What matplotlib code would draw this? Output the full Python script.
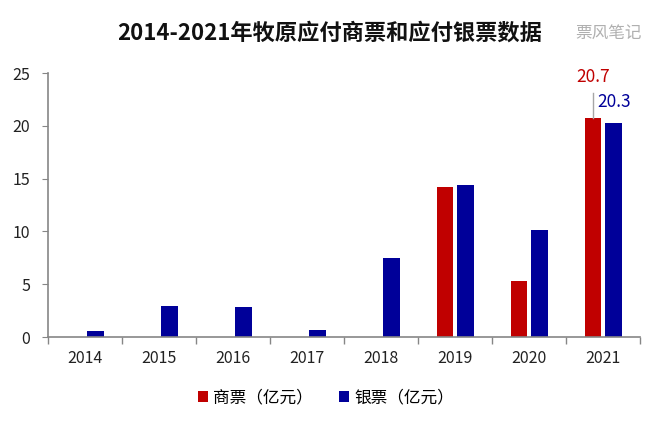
import matplotlib
matplotlib.use("Agg")
from matplotlib import pyplot as plt
import numpy as np

plt.rcParams['font.family'] = ['Noto Sans CJK SC', 'DejaVu Sans']

years = ["2014", "2015", "2016", "2017", "2018", "2019", "2020", "2021"]
shangpiao = [0, 0, 0, 0, 0, 14.2, 5.3, 20.7]   # 商票 (亿元)
yinpiao = [0.6, 2.9, 2.8, 0.7, 7.5, 14.4, 10.1, 20.3]  # 银票 (亿元)

red = "#C00000"
blue = "#000099"
grey = "#868686"

fig = plt.figure(figsize=(6.6, 4.25), dpi=100)
ax = fig.add_axes([0.073, 0.207, 0.897, 0.621])

x = np.arange(len(years))
w = 0.22
ax.bar(x - 0.14, shangpiao, w, color=red, label="商票（亿元）")
ax.bar(x + 0.14, yinpiao, w, color=blue, label="银票（亿元）")

ax.set_xlim(-0.5, len(years) - 0.5)
ax.set_ylim(0, 25)
ax.set_yticks([0, 5, 10, 15, 20, 25])
ax.set_xticks(x)
ax.set_xticklabels(years)
ax.tick_params(axis="x", length=0, pad=9, labelsize=11.5, labelcolor="#222222")
ax.set_xticks(np.arange(-0.5, len(years)), minor=True)
ax.tick_params(axis="x", which="minor", length=5, color=grey, width=1)
ax.tick_params(axis="y", length=4, color=grey, labelsize=11.5, pad=9, labelcolor="#222222")
for s in ["top", "right"]:
    ax.spines[s].set_visible(False)
for s in ["left", "bottom"]:
    ax.spines[s].set_color(grey)
    ax.spines[s].set_linewidth(1.2)

# labels for 2021
i = len(years) - 1
ax.plot([i - 0.14, i - 0.14], [shangpiao[i], 23.1], color="#A6A6A6", lw=1)
ax.text(i - 0.14, 24.6, f"{shangpiao[i]}", color=red, ha="center", va="center", fontsize=12.5)
ax.text(i - 0.08, 22.3, f"{yinpiao[i]}", color=blue, ha="left", va="center", fontsize=12.5)

fig.text(0.5, 0.922, "2014-2021年牧原应付商票和应付银票数据", ha="center", va="center",
         fontsize=16, fontweight="bold", color="#111111")
fig.text(0.922, 0.922, "票风笔记", ha="center", va="center", fontsize=12,
         color="#B0B0B0")

fig.legend(loc="center", bbox_to_anchor=(0.494, 0.064), ncol=2, frameon=False,
           fontsize=12, handlelength=0.6, handleheight=0.6, handletextpad=0.3,
           columnspacing=1.6)

fig.savefig("out.png", dpi=100)
